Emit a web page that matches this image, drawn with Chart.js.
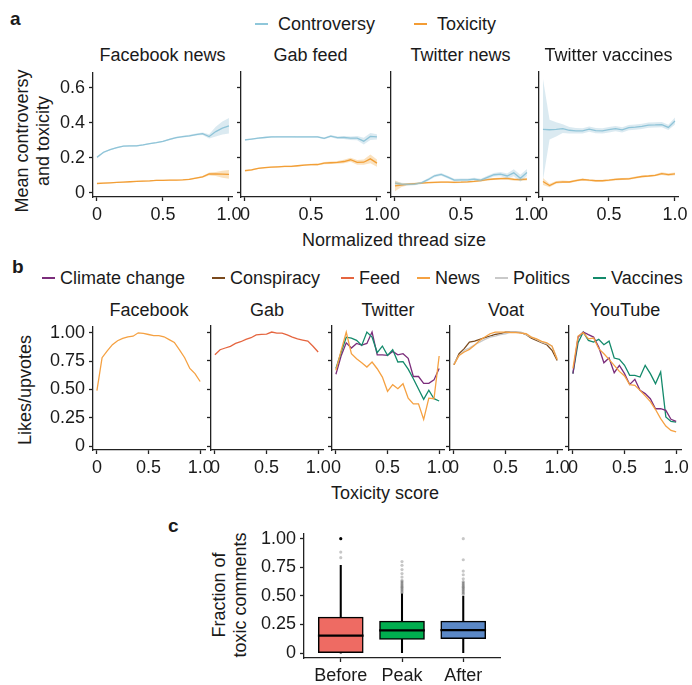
<!DOCTYPE html>
<html lang="en">
<head>
  <meta charset="UTF-8">
  <title>Controversy, toxicity and engagement</title>
  <script src="https://cdn.jsdelivr.net/npm/chart.js"></script>
  <style>
    * { margin: 0; padding: 0; box-sizing: border-box; }

    body {
      width: 692px;
      height: 685px;
      position: relative;
      overflow: hidden;
      background: #fff;
      color: #1a1a1a;
      font-family: 'Liberation Sans', Arial, sans-serif;
    }

    canvas { position: absolute; }

    .txt {
      position: absolute;
      font-size: 18px;
      line-height: 18px;
      white-space: nowrap;
    }

    .center { transform: translateX(-50%); }

    .letter {
      position: absolute;
      font-size: 19px;
      line-height: 19px;
      font-weight: bold;
    }

    .ylab {
      position: absolute;
      font-size: 18px;
      line-height: 21px;
      text-align: center;
      white-space: nowrap;
      transform: translate(-50%, -50%) rotate(-90deg);
    }

    .key {
      display: inline-block;
      width: 13px;
      height: 1.6px;
      vertical-align: middle;
      margin-right: 10px;
      position: relative;
      top: -1px;
    }

    .legend-b .key { margin-right: 5px; }
  </style>
</head>
<body>
  <div class="letter" style="left:10px; top:9px;">a</div>
  <div class="letter" style="left:12px; top:257px;">b</div>
  <div class="letter" style="left:168px; top:516px;">c</div>

  <div class="txt" style="left:255px; top:15px;"><span class="key" style="background:#8fc7da"></span>Controversy</div>
  <div class="txt" style="left:414px; top:15px;"><span class="key" style="background:#f39c34"></span>Toxicity</div>

  <div class="legend-b">
    <div class="txt" style="left:42px; top:269px;"><span class="key" style="background:#7b2d7b"></span>Climate change</div>
    <div class="txt" style="left:212px; top:269px;"><span class="key" style="background:#7a4a1d"></span>Conspiracy</div>
    <div class="txt" style="left:341px; top:269px;"><span class="key" style="background:#e5653f"></span>Feed</div>
    <div class="txt" style="left:417px; top:269px;"><span class="key" style="background:#f5a142"></span>News</div>
    <div class="txt" style="left:495px; top:269px;"><span class="key" style="background:#c9c9c9"></span>Politics</div>
    <div class="txt" style="left:593px; top:269px;"><span class="key" style="background:#138a6b"></span>Vaccines</div>
  </div>

  <div class="ylab" style="left:33px; top:141px;">Mean controversy<br>and toxicity</div>
  <div class="ylab" style="left:25px; top:390px;">Likes/upvotes</div>
  <div class="ylab" style="left:230px; top:595px;">Fraction of<br>toxic comments</div>

  <div class="txt center" style="left:394px; top:231px;">Normalized thread size</div>
  <div class="txt center" style="left:385px; top:484px;">Toxicity score</div>

  <script>
    // ---- panel a: mean controversy / toxicity vs normalized thread size ----
    const threadGrid = [0, 0.05, 0.1, 0.15, 0.2, 0.25, 0.3, 0.35, 0.4, 0.45, 0.5, 0.55, 0.6, 0.65, 0.7, 0.75, 0.8, 0.85, 0.9, 0.95, 1.0];

    const fbNewsControversy = [0.203, 0.232, 0.247, 0.258, 0.267, 0.268, 0.269, 0.274, 0.281, 0.287, 0.294, 0.306, 0.315, 0.321, 0.326, 0.333, 0.338, 0.322, 0.350, 0.370, 0.383];
    const fbNewsControversyErr = [0.006, 0.005, 0.004, 0.004, 0.004, 0.004, 0.004, 0.004, 0.004, 0.004, 0.004, 0.005, 0.005, 0.005, 0.006, 0.006, 0.007, 0.012, 0.028, 0.037, 0.044];
    const fbNewsToxicity = [0.054, 0.056, 0.058, 0.060, 0.062, 0.064, 0.066, 0.068, 0.069, 0.072, 0.072, 0.073, 0.073, 0.075, 0.078, 0.085, 0.092, 0.108, 0.108, 0.107, 0.106];
    const fbNewsToxicityErr = [0.003, 0.003, 0.003, 0.003, 0.003, 0.003, 0.003, 0.003, 0.003, 0.003, 0.003, 0.003, 0.003, 0.003, 0.004, 0.004, 0.005, 0.008, 0.012, 0.020, 0.025];

    const gabFeedControversy = [0.300, 0.305, 0.310, 0.314, 0.317, 0.318, 0.318, 0.318, 0.317, 0.317, 0.317, 0.317, 0.309, 0.322, 0.313, 0.314, 0.310, 0.310, 0.293, 0.320, 0.318];
    const gabFeedControversyErr = [0.005, 0.004, 0.004, 0.004, 0.004, 0.004, 0.004, 0.004, 0.004, 0.004, 0.004, 0.005, 0.005, 0.006, 0.007, 0.008, 0.010, 0.012, 0.019, 0.020, 0.015];
    const gabFeedToxicity = [0.126, 0.131, 0.139, 0.143, 0.146, 0.148, 0.150, 0.150, 0.154, 0.158, 0.160, 0.161, 0.169, 0.171, 0.173, 0.178, 0.188, 0.173, 0.174, 0.193, 0.169];
    const gabFeedToxicityErr = [0.006, 0.005, 0.004, 0.004, 0.004, 0.004, 0.004, 0.004, 0.004, 0.004, 0.005, 0.005, 0.006, 0.007, 0.008, 0.010, 0.012, 0.014, 0.015, 0.025, 0.020];

    const twNewsControversy = [0.056, 0.050, 0.048, 0.050, 0.057, 0.075, 0.097, 0.105, 0.090, 0.073, 0.074, 0.074, 0.078, 0.073, 0.088, 0.103, 0.107, 0.096, 0.114, 0.083, 0.116];
    const twNewsControversyErr = [0.010, 0.008, 0.007, 0.007, 0.007, 0.008, 0.008, 0.008, 0.008, 0.008, 0.008, 0.008, 0.008, 0.008, 0.010, 0.010, 0.012, 0.014, 0.020, 0.020, 0.020];
    const twNewsToxicity = [0.040, 0.045, 0.050, 0.053, 0.056, 0.058, 0.060, 0.061, 0.061, 0.060, 0.061, 0.063, 0.066, 0.070, 0.076, 0.079, 0.081, 0.082, 0.077, 0.075, 0.078];
    const twNewsToxicityErr = [0.030, 0.012, 0.006, 0.005, 0.005, 0.005, 0.005, 0.005, 0.005, 0.005, 0.005, 0.005, 0.005, 0.006, 0.006, 0.006, 0.007, 0.007, 0.008, 0.008, 0.008];

    const twVaccinesControversy = [0.360, 0.358, 0.360, 0.364, 0.355, 0.352, 0.351, 0.361, 0.353, 0.352, 0.358, 0.364, 0.357, 0.370, 0.373, 0.377, 0.384, 0.385, 0.387, 0.371, 0.407];
    const twVaccinesControversyErr = [0.287, 0.056, 0.040, 0.025, 0.018, 0.016, 0.015, 0.015, 0.015, 0.015, 0.015, 0.015, 0.015, 0.015, 0.015, 0.015, 0.015, 0.015, 0.015, 0.015, 0.020];
    const twVaccinesToxicity = [0.065, 0.042, 0.060, 0.063, 0.062, 0.070, 0.076, 0.072, 0.069, 0.069, 0.072, 0.077, 0.079, 0.080, 0.087, 0.093, 0.096, 0.100, 0.109, 0.104, 0.108];
    const twVaccinesToxicityErr = [0.020, 0.010, 0.008, 0.007, 0.006, 0.006, 0.006, 0.006, 0.006, 0.006, 0.006, 0.006, 0.006, 0.006, 0.006, 0.006, 0.006, 0.006, 0.008, 0.008, 0.008];

    const threadTicks = [0, 0.5, 1];
    const threadTickLabels = ['0', '0.5', '1.0'];
    const meanTicks = [0, 0.2, 0.4, 0.6];
    const meanTickLabels = ['0', '0.2', '0.4', '0.6'];

    // ---- panel b: likes/upvotes vs toxicity score ----
    const scoreGrid = [0, 0.05, 0.1, 0.15, 0.2, 0.25, 0.3, 0.35, 0.4, 0.45, 0.5, 0.55, 0.6, 0.65, 0.7, 0.75, 0.8, 0.85, 0.9, 0.95, 1.0];

    const facebookNews = [0.49, 0.78, 0.84, 0.895, 0.93, 0.95, 0.965, 0.97, 1.0, 0.995, 0.985, 0.975, 0.975, 0.965, 0.94, 0.915, 0.85, 0.78, 0.685, 0.64, 0.57];
    const gabFeed = [0.80, 0.845, 0.86, 0.875, 0.90, 0.915, 0.935, 0.95, 0.975, 0.98, 0.982, 1.0, 0.99, 0.99, 0.975, 0.956, 0.94, 0.93, 0.92, 0.875, 0.825];
    const twitterClimate = [0.63, 0.79, 0.905, 0.86, 0.90, 0.885, 0.90, 1.0, 0.80, 0.80, 0.795, 0.83, 0.80, 0.81, 0.77, 0.61, 0.61, 0.55, 0.55, 0.58, 0.68];
    const twitterNews = [0.665, 0.835, 1.0, 0.81, 0.766, 0.73, 0.693, 0.737, 0.678, 0.605, 0.48, 0.538, 0.503, 0.547, 0.42, 0.37, 0.37, 0.234, 0.42, 0.415, 0.79];
    const twitterVaccines = [0.68, 0.82, 0.955, 0.947, 0.927, 0.883, 1.0, 0.956, 0.82, 0.877, 0.795, 0.845, 0.737, 0.74, 0.675, 0.59, 0.50, 0.41, 0.49, 0.415, 0.395];
    const voatConspiracy = [0.713, 0.81, 0.854, 0.912, 0.92, 0.936, 0.95, 0.965, 0.98, 0.985, 1.0, 1.0, 1.0, 0.994, 0.977, 0.947, 0.927, 0.906, 0.889, 0.84, 0.75];
    const voatNews = [0.713, 0.795, 0.825, 0.848, 0.883, 0.927, 0.956, 0.985, 1.0, 1.0, 1.0, 0.994, 0.994, 0.99, 0.985, 0.956, 0.94, 0.918, 0.906, 0.877, 0.76];
    const voatPolitics = [0.72, 0.795, 0.84, 0.86, 0.889, 0.912, 0.936, 0.956, 0.965, 0.977, 0.985, 1.0, 1.0, 1.0, 0.977, 0.956, 0.936, 0.912, 0.897, 0.877, 0.765];
    const youtubeClimate = [0.635, 0.956, 1.0, 0.977, 0.956, 0.868, 0.73, 0.772, 0.643, 0.708, 0.635, 0.54, 0.585, 0.488, 0.46, 0.415, 0.327, 0.327, 0.313, 0.234, 0.216];
    const youtubeNews = [0.68, 0.965, 0.994, 0.94, 0.947, 0.854, 0.81, 0.76, 0.708, 0.655, 0.614, 0.538, 0.532, 0.488, 0.44, 0.39, 0.32, 0.24, 0.175, 0.137, 0.123];
    const youtubeVaccines = [0.635, 0.906, 1.0, 0.927, 0.912, 0.936, 0.889, 0.92, 0.772, 0.76, 0.708, 0.62, 0.62, 0.605, 0.708, 0.635, 0.547, 0.65, 0.255, 0.216, 0.21];

    const scoreTicks = [0, 0.5, 1];
    const scoreTickLabels = ['0', '0.5', '1.0'];
    const likeTicks = [0, 0.25, 0.5, 0.75, 1];
    const likeTickLabels = ['0', '0.25', '0.50', '0.75', '1.00'];

    // ---- panel c: fraction of toxic comments around the activity peak ----
    const phases = ['Before', 'Peak', 'After'];
    const boxQ1 = [0, 0.12, 0.125];
    const boxMedian = [0.152, 0.198, 0.20];
    const boxQ3 = [0.315, 0.28, 0.28];
    const whiskerLow = [0, 0, 0];
    const whiskerHigh = [0.767, 0.519, 0.499];
    const outliersBefore = [0.834, 0.883, 1.0];
    const outliersPeak = [0.525, 0.535, 0.545, 0.555, 0.565, 0.575, 0.585, 0.595, 0.605, 0.615, 0.625, 0.635, 0.665, 0.695, 0.73, 0.767, 0.80];
    const outliersAfter = [0.515, 0.525, 0.535, 0.545, 0.555, 0.565, 0.575, 0.585, 0.595, 0.605, 0.615, 0.625, 0.65, 0.685, 0.717, 0.816, 1.0];
    const fractionTicks = [0, 0.25, 0.5, 0.75, 1];
    const fractionTickLabels = ['0', '0.25', '0.50', '0.75', '1.00'];

    const COLORS = {
      controversy: '#8fc7da',
      controversyBand: 'rgba(143, 190, 210, 0.32)',
      toxicity: '#f39c34',
      toxicityBand: 'rgba(240, 165, 60, 0.32)',
      climate: '#7b2d7b',
      conspiracy: '#7a4a1d',
      feed: '#e5653f',
      news: '#f5a142',
      politics: '#c9c9c9',
      vaccines: '#138a6b'
    };
    const boxColors = ['#ee6b63', '#00ad4f', '#5b88c6'];

    Chart.defaults.font.family = "'Liberation Sans', Arial, sans-serif";
    Chart.defaults.font.size = 18;
    Chart.defaults.color = '#1a1a1a';
    Chart.defaults.animation = false;
    Chart.defaults.plugins.legend.display = false;
    Chart.defaults.plugins.tooltip.enabled = false;

    const PAD = { l: 60, r: 26, t: 14, b: 40 };
    const INK = '#222';

    const addCanvas = (area) => {
      const c = document.createElement('canvas');
      c.width = area.w + PAD.l + PAD.r;
      c.height = area.h + PAD.t + PAD.b;
      c.style.left = (area.x - PAD.l) + 'px';
      c.style.top = (area.y - PAD.t) + 'px';
      c.style.width = c.width + 'px';
      c.style.height = c.height + 'px';
      document.body.appendChild(c);
      return c;
    };

    const addTitle = (area, text, top) => {
      const d = document.createElement('div');
      d.className = 'txt center';
      d.style.left = (area.x + area.w / 2) + 'px';
      d.style.top = top + 'px';
      d.textContent = text;
      document.body.appendChild(d);
    };

    const axisStyle = {
      border: { display: true, color: INK, width: 1.3 },
      grid: { drawOnChartArea: false, drawTicks: true, tickLength: 4, tickColor: INK, tickWidth: 1.3, offset: false }
    };

    const makeScales = (xRange, xTicks, xLabels, yRange, yTicks, yLabels, showY) => ({
      x: {
        type: 'linear', min: xRange[0], max: xRange[1], offset: false,
        ...axisStyle,
        ticks: { padding: 3, maxRotation: 0, autoSkip: false, callback: (v, i) => xLabels[i] },
        afterBuildTicks: (s) => { s.ticks = xTicks.map(v => ({ value: v })); },
        afterFit: (s) => { s.height = PAD.b; }
      },
      y: {
        type: 'linear', min: yRange[0], max: yRange[1],
        ...axisStyle,
        ticks: { display: showY, padding: 4, callback: (v, i) => yLabels[i] },
        afterBuildTicks: (s) => { s.ticks = yTicks.map(v => ({ value: v })); },
        afterFit: (s) => { s.width = PAD.l; }
      }
    });

    const pts = (xs, ys) => xs.map((x, i) => ({ x, y: ys[i] }));

    const lineSet = (xs, ys, color) => ({
      data: pts(xs, ys), borderColor: color, borderWidth: 1.3,
      pointRadius: 0, fill: false, tension: 0
    });

    const bandSets = (xs, ys, err, color) => [
      { data: pts(xs, ys.map((v, i) => v - err[i])), borderWidth: 0, pointRadius: 0, fill: false },
      { data: pts(xs, ys.map((v, i) => v + err[i])), borderWidth: 0, pointRadius: 0, fill: '-1', backgroundColor: color }
    ];

    // panel a
    const aPanels = [
      { title: 'Facebook news', x: 93, c: fbNewsControversy, ce: fbNewsControversyErr, t: fbNewsToxicity, te: fbNewsToxicityErr },
      { title: 'Gab feed', x: 241, c: gabFeedControversy, ce: gabFeedControversyErr, t: gabFeedToxicity, te: gabFeedToxicityErr },
      { title: 'Twitter news', x: 391, c: twNewsControversy, ce: twNewsControversyErr, t: twNewsToxicity, te: twNewsToxicityErr },
      { title: 'Twitter vaccines', x: 539, c: twVaccinesControversy, ce: twVaccinesControversyErr, t: twVaccinesToxicity, te: twVaccinesToxicityErr }
    ];

    aPanels.forEach((p, idx) => {
      const area = { x: p.x, y: 72, w: 139, h: 125 };
      addTitle(area, p.title, 46);
      new Chart(addCanvas(area), {
        type: 'line',
        data: {
          datasets: [
            ...bandSets(threadGrid, p.c, p.ce, COLORS.controversyBand),
            ...bandSets(threadGrid, p.t, p.te, COLORS.toxicityBand),
            lineSet(threadGrid, p.c, COLORS.controversy),
            lineSet(threadGrid, p.t, COLORS.toxicity)
          ]
        },
        options: {
          responsive: false,
          layout: { padding: { left: 0, right: PAD.r, top: PAD.t, bottom: 0 } },
          scales: makeScales([-0.03, 1.023], threadTicks, threadTickLabels,
                             [-0.023, 0.685], meanTicks, meanTickLabels, idx === 0)
        }
      });
    });

    // panel b
    const bPanels = [
      { title: 'Facebook', x: 93, lines: [[facebookNews, COLORS.news]] },
      { title: 'Gab', x: 211, lines: [[gabFeed, COLORS.feed]] },
      { title: 'Twitter', x: 332, lines: [[twitterNews, COLORS.news], [twitterVaccines, COLORS.vaccines], [twitterClimate, COLORS.climate]] },
      { title: 'Voat', x: 450, lines: [[voatNews, COLORS.news], [voatPolitics, COLORS.politics], [voatConspiracy, COLORS.conspiracy]] },
      { title: 'YouTube', x: 569, lines: [[youtubeNews, COLORS.news], [youtubeClimate, COLORS.climate], [youtubeVaccines, COLORS.vaccines]] }
    ];

    bPanels.forEach((p, idx) => {
      const area = { x: p.x, y: 326, w: 112, h: 124 };
      addTitle(area, p.title, 301);
      new Chart(addCanvas(area), {
        type: 'line',
        data: { datasets: p.lines.map(([ys, color]) => lineSet(scoreGrid, ys, color)) },
        options: {
          responsive: false,
          layout: { padding: { left: 0, right: PAD.r, top: PAD.t, bottom: 0 } },
          scales: makeScales([-0.038, 1.047], scoreTicks, scoreTickLabels,
                             [-0.035, 1.053], likeTicks, likeTickLabels, idx === 0)
        }
      });
    });

    // panel c: box plot from floating bars
    const phaseX = phases.map((_, i) => i + 1);
    const outliers = [
      ...outliersBefore.map(y => ({ x: 1, y })),
      ...outliersPeak.map(y => ({ x: 2, y })),
      ...outliersAfter.map(y => ({ x: 3, y }))
    ];
    const outlierColors = outliers.map(o => (o.x === 1 && o.y === 1 ? '#000' : 'rgba(0, 0, 0, 0.22)'));

    const cArea = { x: 304, y: 533, w: 196, h: 125 };
    new Chart(addCanvas(cArea), {
      type: 'bar',
      data: {
        datasets: [
          {
            data: phaseX.map((x, i) => ({ x, y: [boxQ3[i], whiskerHigh[i]] })),
            backgroundColor: '#000', barThickness: 1.4, grouped: false, order: 4
          },
          {
            data: phaseX.map((x, i) => ({ x, y: [whiskerLow[i], boxQ1[i]] })),
            backgroundColor: '#000', barThickness: 1.4, grouped: false, order: 4
          },
          {
            data: phaseX.map((x, i) => ({ x, y: [boxQ1[i], boxQ3[i]] })),
            backgroundColor: boxColors, borderColor: '#000', borderWidth: 1.5,
            borderSkipped: false, barThickness: 45, grouped: false, order: 3
          },
          {
            data: phaseX.map((x, i) => ({ x, y: [boxMedian[i] - 0.007, boxMedian[i] + 0.007] })),
            backgroundColor: '#000', barThickness: 45, grouped: false, order: 2
          },
          {
            type: 'scatter',
            data: outliers,
            pointRadius: 1.6, pointBorderWidth: 0,
            pointBackgroundColor: outlierColors, order: 1
          }
        ]
      },
      options: {
        responsive: false,
        layout: { padding: { left: 0, right: PAD.r, top: PAD.t, bottom: 0 } },
        scales: makeScales([0.4, 3.6], phaseX, phases,
                           [-0.043, 1.043], fractionTicks, fractionTickLabels, true)
      }
    });
  </script>
</body>
</html>
